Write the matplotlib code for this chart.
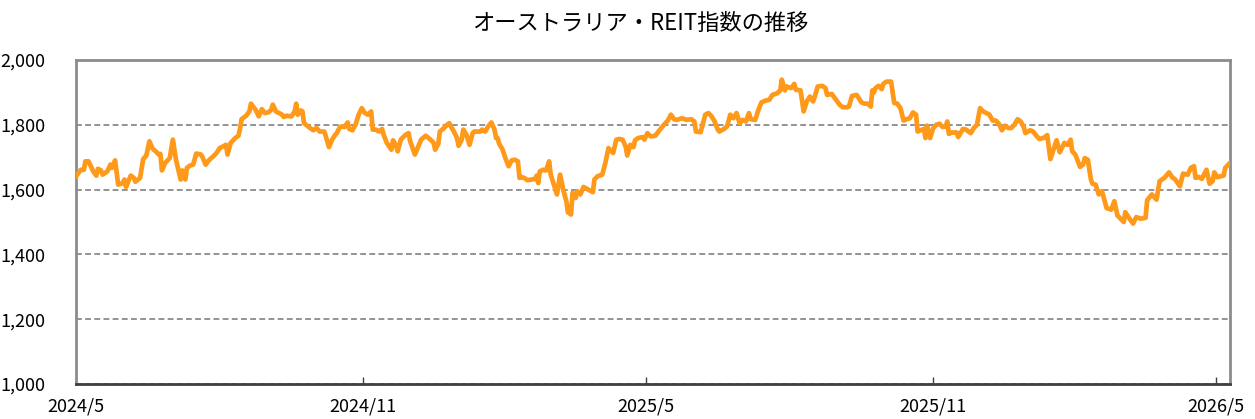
import numpy as np
import pandas as pd
import matplotlib
matplotlib.use("Agg")
import matplotlib.pyplot as plt
from matplotlib.ticker import FuncFormatter

plt.rcParams['font.family'] = ['Noto Sans CJK JP', 'DejaVu Sans']

title = "オーストラリア・REIT指数の推移"
start_date = "2024-05-01"

# days since start_date, and index level
day = [
    0, 3, 5, 6, 8, 11, 13, 14, 16, 17, 20, 22, 23, 25, 27, 30, 31, 32, 35, 37,
    38, 41, 43, 45, 47, 49, 51, 53, 54, 55, 57, 59, 60, 62, 64, 67, 68, 70, 71, 73,
    75, 77, 80, 81, 83, 85, 88, 90, 92, 95, 96, 97, 99, 102, 104, 105, 106, 109, 111, 112,
    115, 117, 119, 121, 123, 125, 126, 128, 132, 133, 135, 137, 138, 140, 141, 142, 144, 145, 146, 149,
    152, 154, 156, 159, 160, 162, 164, 166, 167, 169, 171, 172, 174, 175, 177, 179, 181, 183, 185, 187,
    189, 190, 192, 194, 196, 197, 199, 202, 203, 205, 206, 208, 211, 213, 214, 217, 219, 221, 224, 227,
    229, 230, 232, 233, 235, 237, 239, 240, 242, 244, 245, 247, 248, 250, 252, 254, 255, 259, 260, 262,
    264, 266, 268, 269, 270, 271, 273, 275, 277, 279, 281, 283, 284, 285, 287, 289, 292, 294, 295, 296,
    297, 299, 301, 303, 304, 306, 308, 310, 312, 314, 315, 317, 318, 320, 321, 323, 325, 328, 331, 332,
    334, 337, 339, 341, 343, 344, 346, 348, 350, 352, 353, 355, 357, 358, 360, 363, 364, 366, 368, 371,
    373, 376, 379, 381, 383, 385, 388, 391, 394, 396, 397, 400, 403, 405, 407, 409, 411, 412, 415, 417,
    419, 421, 423, 425, 427, 429, 431, 432, 435, 437, 439, 442, 444, 446, 449, 451, 452, 454, 455, 458,
    460, 461, 464, 466, 468, 470, 472, 473, 475, 478, 480, 481, 484, 486, 489, 491, 494, 495, 497, 500,
    503, 505, 507, 509, 510, 511, 512, 514, 516, 517, 519, 522, 524, 526, 528, 530, 532, 534, 536, 538,
    539, 541, 543, 544, 545, 547, 549, 551, 553, 555, 557, 558, 559, 561, 564, 565, 568, 570, 573, 575,
    577, 579, 581, 583, 585, 587, 589, 591, 593, 595, 597, 599, 601, 603, 605, 607, 608, 611, 613, 615,
    617, 620, 622, 624, 626, 628, 630, 633, 635, 637, 638, 640, 643, 645, 646, 648, 650, 651, 653, 655,
    657, 658, 660, 663, 665, 667, 669, 671, 672, 675, 677, 679, 682, 685, 686, 689, 692, 694, 697, 700,
    702, 704, 707, 709, 712, 714, 716, 717, 719, 721, 724, 726, 728, 729, 731, 733, 735, 736, 739,
]
index_value = [
    1641, 1661, 1661, 1687, 1687, 1656, 1643, 1664, 1659, 1646, 1656, 1677, 1667, 1690, 1615, 1620, 1631, 1608, 1643, 1636,
    1624, 1636, 1694, 1705, 1749, 1726, 1718, 1708, 1710, 1659, 1682, 1692, 1697, 1754, 1692, 1631, 1659, 1631, 1667, 1674,
    1677, 1711, 1708, 1700, 1677, 1690, 1703, 1713, 1728, 1735, 1738, 1708, 1744, 1759, 1766, 1787, 1817, 1828, 1841, 1865,
    1846, 1826, 1848, 1836, 1838, 1846, 1862, 1841, 1831, 1824, 1828, 1826, 1826, 1841, 1865, 1831, 1844, 1841, 1805, 1793,
    1783, 1790, 1779, 1779, 1764, 1731, 1754, 1769, 1774, 1793, 1795, 1793, 1807, 1787, 1783, 1800, 1831, 1851, 1836, 1831,
    1841, 1785, 1785, 1779, 1787, 1769, 1744, 1723, 1752, 1735, 1718, 1754, 1769, 1774, 1749, 1708, 1731, 1754, 1766, 1754,
    1744, 1723, 1741, 1779, 1787, 1797, 1805, 1795, 1779, 1759, 1735, 1754, 1785, 1769, 1738, 1774, 1779, 1779, 1785, 1779,
    1795, 1807, 1785, 1759, 1759, 1741, 1725, 1697, 1672, 1690, 1692, 1687, 1636, 1639, 1636, 1629, 1631, 1633, 1643, 1620,
    1656, 1661, 1659, 1687, 1646, 1615, 1585, 1646, 1600, 1564, 1530, 1523, 1590, 1574, 1595, 1585, 1608, 1600, 1592, 1631,
    1641, 1646, 1682, 1728, 1718, 1713, 1754, 1756, 1754, 1733, 1705, 1738, 1731, 1752, 1759, 1762, 1754, 1774, 1764, 1766,
    1779, 1797, 1813, 1831, 1817, 1815, 1820, 1815, 1817, 1810, 1779, 1777, 1831, 1836, 1826, 1810, 1785, 1779, 1787, 1795,
    1831, 1820, 1836, 1805, 1815, 1810, 1836, 1817, 1815, 1846, 1869, 1875, 1877, 1892, 1897, 1906, 1939, 1906, 1918, 1913,
    1926, 1908, 1906, 1841, 1872, 1887, 1872, 1885, 1918, 1920, 1913, 1892, 1895, 1882, 1862, 1854, 1854, 1856, 1889, 1892,
    1869, 1865, 1865, 1856, 1906, 1900, 1913, 1920, 1910, 1926, 1933, 1933, 1867, 1865, 1851, 1813, 1817, 1820, 1838, 1831,
    1779, 1783, 1787, 1759, 1797, 1759, 1790, 1800, 1803, 1793, 1795, 1810, 1772, 1776, 1776, 1762, 1787, 1785, 1774, 1790,
    1800, 1851, 1841, 1836, 1831, 1813, 1813, 1803, 1783, 1797, 1790, 1790, 1800, 1817, 1810, 1793, 1774, 1783, 1779, 1766,
    1756, 1760, 1768, 1694, 1723, 1752, 1715, 1744, 1738, 1754, 1718, 1708, 1670, 1677, 1697, 1692, 1631, 1618, 1615, 1585,
    1595, 1579, 1543, 1538, 1564, 1520, 1510, 1500, 1530, 1508, 1495, 1515, 1510, 1513, 1567, 1585, 1569, 1626, 1636, 1653,
    1638, 1631, 1610, 1649, 1646, 1667, 1672, 1636, 1639, 1633, 1661, 1618, 1626, 1653, 1638, 1641, 1643, 1667, 1682,
]

tick_dates = ["2024-05-01", "2024-11-01", "2025-05-01", "2025-11-01", "2026-05-01"]
tick_labels = ["2024/5", "2024/11", "2025/5", "2025/11", "2026/5"]

dates = pd.Timestamp(start_date) + pd.to_timedelta(day, unit="D")

fig = plt.figure(figsize=(12.55, 4.19), dpi=100)
ax = fig.add_axes([0.0606, 0.0835, 0.9194, 0.7735])

ax.plot(dates, index_value, color="#FF991A", lw=3.4, solid_joinstyle="round", zorder=3)

ax.set_ylim(1000, 2000)
ax.set_yticks([1000, 1200, 1400, 1600, 1800, 2000])
ax.yaxis.set_major_formatter(FuncFormatter(lambda v, p: f"{int(v):,}"))
ax.set_xlim(dates[0], dates[-1])
ax.set_xticks(pd.to_datetime(tick_dates))
ax.set_xticklabels(tick_labels)

ax.yaxis.grid(True, linestyle=(0, (3.5, 2)), color="#808080", lw=1.2)
ax.set_axisbelow(True)

for side in ["left", "top", "right"]:
    ax.spines[side].set_color("#8c8c8c")
    ax.spines[side].set_linewidth(2)
ax.spines["bottom"].set_color("#404040")
ax.spines["bottom"].set_linewidth(2)

ax.tick_params(axis="y", length=0, pad=22, labelsize=13)
ax.tick_params(axis="x", direction="in", length=5, width=1, color="#404040", pad=10, labelsize=13)

fig.text(0.51, 0.945, title, ha="center", va="center", fontsize=16)

fig.savefig("out.png", dpi=100)
